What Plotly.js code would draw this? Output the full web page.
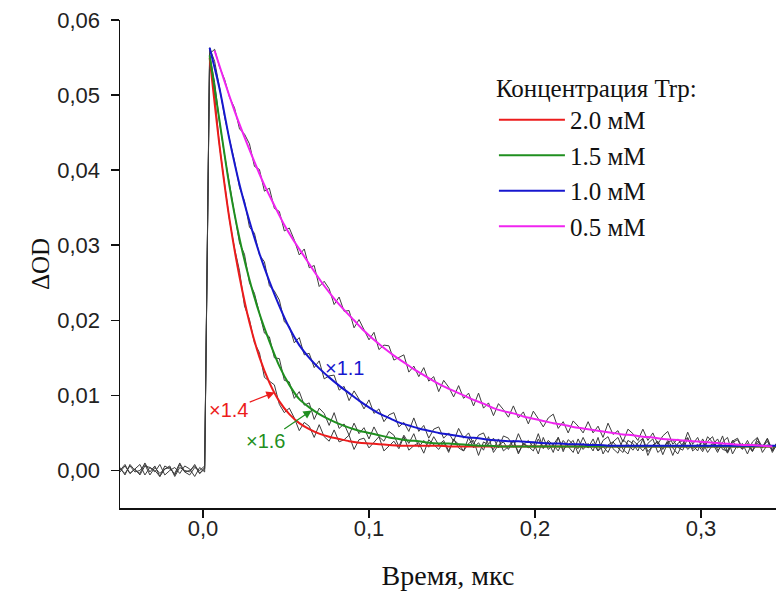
<!DOCTYPE html>
<html>
<head>
<meta charset="utf-8">
<script src="https://cdn.plot.ly/plotly-3.0.1.min.js"></script>
<style>html,body{margin:0;padding:0;background:#fff;}#chart{width:776px;height:596px;}</style>
</head>
<body>
<div id="chart"></div>
<script>
// Sampling of the measured kinetics (time in µs)
const T_START = -0.05;
const T_STEP = 0.003;
// Fit curves sampling
const FIT_START = 0.004;
const FIT_START_05 = 0.007;
const FIT_STEP = 0.006;

// Measured traces, values in units of 1e-4 ΔOD
const exp20 = [4,-6,8,0,-4,10,-2,6,-8,2,4,-6,8,-2,0,6,-4,2,
550,500,431,379,333,296,266,219,201,170,
157,124,119,114,88,77,83,70,53,64,
59,44,61,45,39,54,38,41,47,28,
41,43,30,37,45,26,32,39,29,45,
27,33,37,23,41,35,28,38,24,42,
30,26,36,40,20,38,34,28,42,26,
32,40,24,36,30,38,22,44,28,34,
26,40,32,24,42,28,36,26,44,22,
34,38,30,24,40,36,26,42,20,34,
38,28,40,30,22,36,44,26,32,38,
24,34,42,28,26,40,30,36,22,38,
44,24,34,28,38];
const exp15 = [-2,6,-4,2,8,-6,4,0,-8,6,2,-4,10,-2,-6,4,0,6,
554,517,463,420,380,340,303,288,250,236,
211,183,178,150,149,120,118,96,105,87,
90,68,83,76,60,77,56,62,47,63,
49,57,42,58,45,39,52,47,32,47,
36,49,31,40,31,45,34,40,26,41,
35,26,44,30,37,27,45,24,34,38,
28,40,22,36,32,26,42,30,38,24,
44,28,34,40,22,36,30,42,26,32,
24,38,44,28,22,40,34,26,36,42,
24,30,38,20,36,40,28,34,26,42,
30,36,24,38,44,22,34,28,40,26,
36,30,42,24,36];
const exp10 = [2,-4,6,-2,0,8,-6,4,-4,2,6,-8,4,0,-2,8,-4,4,
563,545,510,471,441,412,377,359,324,316,
287,278,246,239,227,198,192,170,177,154,
156,137,146,122,126,127,107,112,93,106,
95,82,94,76,82,65,74,77,58,64,
52,70,52,60,43,55,58,43,50,39,
56,43,50,35,47,50,35,43,30,46,
43,31,49,34,40,31,49,29,40,34,
44,25,41,35,29,44,30,36,26,40,
45,29,23,41,35,27,37,43,25,33,
39,21,37,41,31,27,43,29,35,25,
39,45,27,33,23,37,41,29,35,25,
39,31,43,27,37];
const exp05 = [0,8,-4,2,-6,6,4,-2,8,-6,0,4,-4,6,2,-8,4,-2,
555,561,537,521,497,483,455,448,435,405,
401,372,376,349,345,319,323,307,287,295,
270,273,245,252,242,221,231,212,213,190,
201,188,174,184,161,167,166,147,150,154,
131,139,125,137,119,125,105,120,111,98,
113,96,103,86,103,83,90,73,89,81,
71,86,70,78,62,79,69,58,70,75,
56,65,50,66,59,50,65,50,59,44,
63,48,53,38,55,49,40,55,40,50,
35,46,52,35,42,32,51,35,44,28,
45,37,30,46,24,39,43,30,36,26,
43,31,39,26,36];

// Fitted curves, values in units of 1e-4 ΔOD
const fit20 = [550,432,334,258,197,151,117,92,75,63,55,49,45,42,39,37,36,35,34,33,
33,33,33,33,32,32,32,32,32,32,32,32,32,32,32,32,32,32,32,32,
32,32,32,32,32,32,32,32,32,32,32,32,32,32,32,32,32,32];
const fit15 = [553,465,378,309,254,209,172,139,114,95,84,75,68,62,57,53,50,47,44,42,
40,39,37,36,36,35,34,33,33,32,32,32,32,32,32,32,32,32,32,32,
32,32,32,32,32,32,32,32,32,32,32,32,32,32,32,32,32,32];
const fit10 = [563,508,440,381,332,289,252,219,190,167,150,136,124,113,103,93,84,76,70,64,
60,56,53,50,48,46,44,43,41,40,39,39,38,37,36,36,35,35,34,34,
33,33,33,33,33,33,33,33,33,33,33,33,33,33,33,33,33,33];
const fit05 = [559,518,479,444,411,380,353,327,305,285,265,246,229,214,200,186,174,163,153,144,
135,127,119,112,106,100,94,89,83,79,76,72,69,66,63,61,58,56,54,52,
50,48,47,45,44,42,41,40,39,38,37,36,35,34,34,33,32];

const seriesNames = ['2.0 мМ', '1.5 мМ', '1.0 мМ', '0.5 мМ'];
const seriesColors = ['#ec1c1c', '#1f8f1f', '#1717cf', '#f024f0'];
const legendTitle = 'Концентрация Trp:';
const xTicks = [0, 0.1, 0.2, 0.3];
const scaleLabels = ['×1.4', '×1.6', '×1.1'];

const toOD = a => a.map(v => v * 1e-4);

const traces = [];
[exp20, exp15, exp10, exp05].forEach(arr => {
  traces.push({
    type: 'scatter', mode: 'lines', x0: T_START, dx: T_STEP, y: toOD(arr),
    line: {color: '#3c3c3c', width: 1}, showlegend: false, hoverinfo: 'skip'
  });
});
const fits = [fit20, fit15, fit10, fit05];
const fitStarts = [FIT_START, FIT_START, FIT_START, FIT_START_05];
fits.forEach((arr, i) => {
  traces.push({
    type: 'scatter', mode: 'lines', x0: fitStarts[i], dx: FIT_STEP, y: toOD(arr),
    name: seriesNames[i], line: {color: seriesColors[i], width: 2, shape: 'spline', smoothing: 0.8}
  });
});

const sansFont = 'Liberation Sans, Arial, sans-serif';
const serifFont = 'Liberation Serif, Times New Roman, serif';

const layout = {
  width: 776, height: 596,
  margin: {l: 120, r: 0, t: 20, b: 88},
  paper_bgcolor: '#fff', plot_bgcolor: '#fff',
  separators: ', ',
  showlegend: true,
  legend: {
    x: 0.570, y: 0.909, xanchor: 'left', yanchor: 'top',
    bgcolor: 'rgba(0,0,0,0)', borderwidth: 0,
    font: {family: serifFont, size: 25, color: '#111'},
    title: {text: legendTitle, font: {family: serifFont, size: 25, color: '#111'}},
    itemwidth: 66
  },
  xaxis: {
    range: [-0.05, 0.3452], tickvals: xTicks, tickformat: '.1f',
    ticks: 'outside', ticklen: 8, tickwidth: 1.5, tickcolor: '#111',
    showline: true, linecolor: '#111', linewidth: 1.5, mirror: false,
    showgrid: false, zeroline: false, ticklabelstandoff: -8,
    tickfont: {family: sansFont, size: 22, color: '#222'},
    title: {text: 'Время, мкс', font: {family: serifFont, size: 28, color: '#111'}, standoff: 25},
    automargin: false
  },
  yaxis: {
    range: [-0.005, 0.06], dtick: 0.01, tick0: 0, tickformat: '.2f',
    ticks: 'outside', ticklen: 8, tickwidth: 1.5, tickcolor: '#111',
    showline: true, linecolor: '#111', linewidth: 1.5, mirror: false,
    showgrid: false, zeroline: false, ticklabelstandoff: 6,
    tickfont: {family: sansFont, size: 22, color: '#222'},
    title: {text: 'ΔOD', font: {family: serifFont, size: 25, color: '#111'}, standoff: 0},
    automargin: false
  },
  annotations: [
    {x: 0.0432, y: 0.0104, xref: 'x', yref: 'y', text: scaleLabels[0], showarrow: true,
     ax: -46, ay: 18, arrowhead: 2, arrowsize: 1.4, arrowwidth: 1.2, arrowcolor: seriesColors[0],
     font: {family: sansFont, size: 20, color: seriesColors[0]}},
    {x: 0.0655, y: 0.0080, xref: 'x', yref: 'y', text: scaleLabels[1], showarrow: true,
     ax: -46, ay: 31, arrowhead: 2, arrowsize: 1.4, arrowwidth: 1.2, arrowcolor: seriesColors[1],
     font: {family: sansFont, size: 20, color: seriesColors[1]}},
    {x: 0.0853, y: 0.0137, xref: 'x', yref: 'y', text: scaleLabels[2], showarrow: false,
     font: {family: sansFont, size: 20, color: seriesColors[2]}}
  ]
};

Plotly.newPlot('chart', traces, layout, {displayModeBar: false, staticPlot: true});
</script>
</body>
</html>
